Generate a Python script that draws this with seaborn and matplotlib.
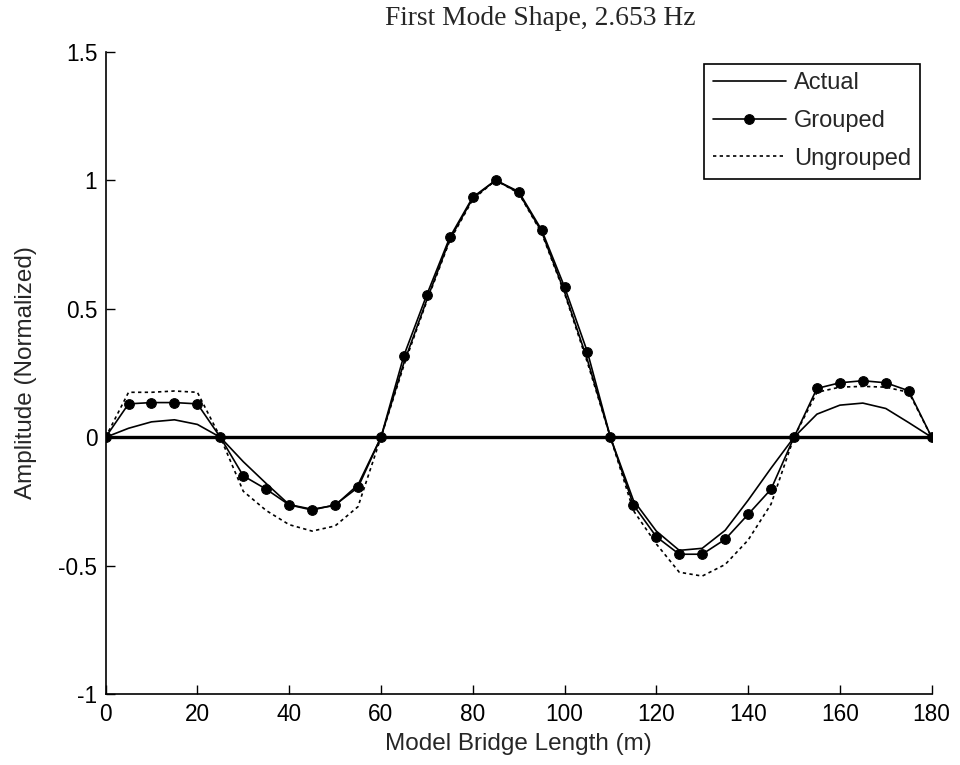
import numpy as np
import pandas as pd
import seaborn as sns
import matplotlib
matplotlib.use("Agg")
import matplotlib.pyplot as plt

positions = list(range(0, 181, 5))

actual = [0, 0.035, 0.06, 0.068, 0.05, 0, -0.095, -0.18, -0.262, -0.28, -0.265, -0.185,
          0, 0.29, 0.535, 0.77, 0.93, 1.0, 0.952, 0.8, 0.565, 0.3,
          0, -0.245, -0.365, -0.44, -0.432, -0.362, -0.245, -0.12,
          0, 0.09, 0.125, 0.133, 0.112, 0.057, 0]

grouped = [0, 0.13, 0.135, 0.135, 0.13, 0, -0.15, -0.202, -0.263, -0.283, -0.263, -0.195,
           0, 0.318, 0.555, 0.778, 0.934, 1.0, 0.956, 0.807, 0.585, 0.331,
           0, -0.263, -0.387, -0.455, -0.455, -0.397, -0.3, -0.202,
           0, 0.19, 0.212, 0.22, 0.212, 0.181, 0]

ungrouped = [0, 0.175, 0.175, 0.18, 0.175, 0, -0.21, -0.285, -0.34, -0.365, -0.345, -0.27,
             0, 0.28, 0.53, 0.765, 0.925, 1.0, 0.95, 0.795, 0.56, 0.29,
             0, -0.285, -0.415, -0.525, -0.54, -0.495, -0.4, -0.26,
             0, 0.175, 0.195, 0.198, 0.195, 0.175, 0]

xticks = [0, 20, 40, 60, 80, 100, 120, 140, 160, 180]
yticks = [-1, -0.5, 0, 0.5, 1, 1.5]
ytick_labels = ["-1", "-0.5", "0", "0.5", "1", "1.5"]

df = pd.DataFrame({"x": positions, "Actual": actual, "Grouped": grouped, "Ungrouped": ungrouped})

sns.set_theme(style="ticks")
plt.rcParams['font.family'] = ['Liberation Sans', 'DejaVu Sans']

fig = plt.figure(figsize=(9.6, 7.65), dpi=100)
ax = fig.add_axes([0.110, 0.0924, 0.8605, 0.84])

ax.axhline(0, color="black", lw=2.4, zorder=1)
sns.lineplot(data=df, x="x", y="Actual", ax=ax, color="black", lw=1.2, label="Actual", zorder=3)
sns.lineplot(data=df, x="x", y="Grouped", ax=ax, color="black", lw=1.2, marker="o",
             markersize=7, markeredgecolor="black", markerfacecolor="black",
             label="Grouped", zorder=4)
sns.lineplot(data=df, x="x", y="Ungrouped", ax=ax, color="black", lw=1.2,
             linestyle=(0, (2, 2)), label="Ungrouped", zorder=2)

ax.set_xlim(0, 180)
ax.set_ylim(-1, 1.5)
ax.set_xticks(xticks)
ax.set_xticklabels([str(t) for t in xticks])
ax.set_yticks(yticks)
ax.set_yticklabels(ytick_labels)
ax.tick_params(direction="in", length=6.5, width=1, labelsize=16.3, pad=6, colors="black")
for s in ["top", "right"]:
    ax.spines[s].set_visible(False)
for s in ["left", "bottom"]:
    ax.spines[s].set_linewidth(1.2)
    ax.spines[s].set_color("black")

ax.set_xlabel("Model Bridge Length (m)", fontsize=17.5, labelpad=5)
ax.set_ylabel("Amplitude (Normalized)", fontsize=17.5, labelpad=15)
title = ax.set_title("First Mode Shape, 2.653 Hz", fontsize=19.8, family=["Liberation Serif"], pad=19)
title.set_x(0.526)

leg = ax.legend(loc="upper right", fontsize=17, handlelength=3.1, handletextpad=0.33,
                frameon=True, fancybox=False, edgecolor="black", borderaxespad=0.5,
                labelspacing=0.66, borderpad=0.38, numpoints=1)
leg.get_frame().set_linewidth(1.2)
leg.get_frame().set_alpha(1)

fig.savefig("out.png", dpi=100)
